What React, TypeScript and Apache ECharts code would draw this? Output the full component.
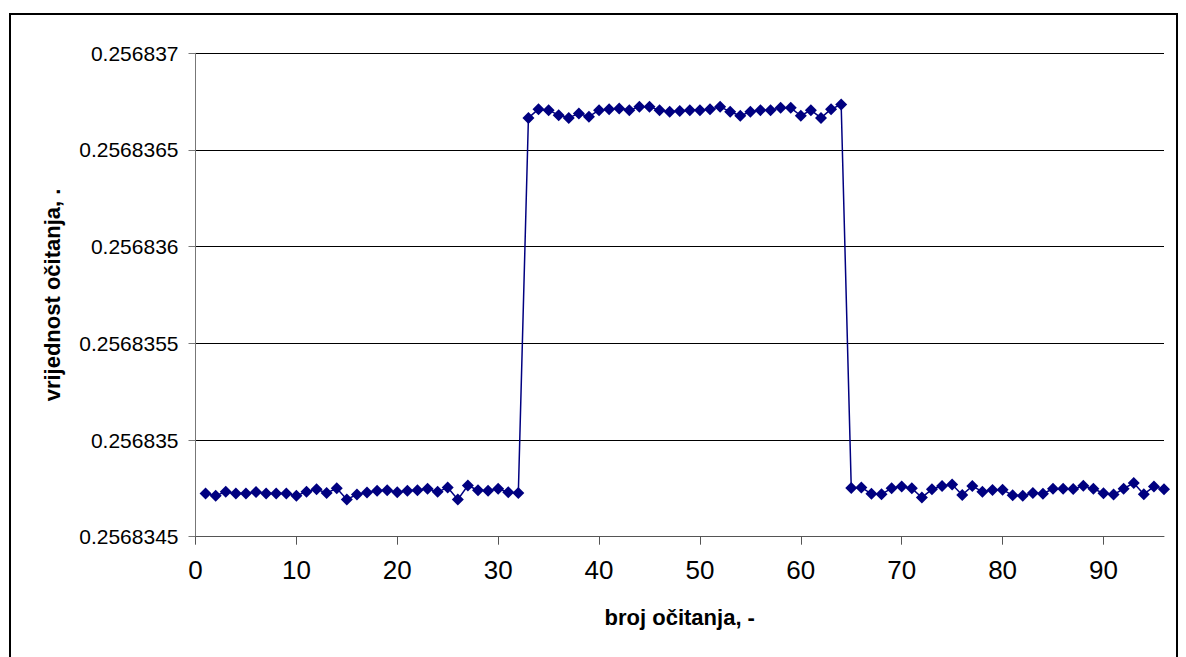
import React, { useEffect, useRef } from "react";
import * as echarts from "echarts";

// Readings 1–32 (before the step)
const lowStart = [
  0.256834724, 0.256834712, 0.256834733, 0.256834724, 0.256834724, 0.256834731, 0.256834724, 0.256834724,
  0.256834724, 0.256834712, 0.256834733, 0.256834745, 0.256834726, 0.25683475, 0.256834693, 0.256834718,
  0.256834728, 0.256834738, 0.25683474, 0.25683473, 0.256834738, 0.25683474, 0.256834748, 0.256834732,
  0.256834754, 0.256834692, 0.256834765, 0.25683474, 0.256834738, 0.256834748, 0.25683473, 0.256834726,
];
// Readings 33–64 (plateau)
const highPlateau = [
  0.256836666, 0.256836711, 0.256836706, 0.25683668, 0.256836666, 0.256836689, 0.256836672, 0.256836706,
  0.256836711, 0.256836715, 0.256836706, 0.256836723, 0.256836723, 0.256836706, 0.256836698, 0.256836701,
  0.256836706, 0.256836706, 0.256836711, 0.256836723, 0.256836698, 0.256836677, 0.256836698, 0.256836706,
  0.256836706, 0.256836718, 0.256836718, 0.256836677, 0.256836706, 0.256836666, 0.256836711, 0.256836735,
];
// Readings 65–96 (after the step)
const lowEnd = [
  0.256834752, 0.256834755, 0.256834722, 0.25683472, 0.25683475, 0.25683476, 0.25683475, 0.256834703,
  0.256834745, 0.256834762, 0.25683477, 0.256834716, 0.256834762, 0.256834733, 0.256834741, 0.256834743,
  0.256834714, 0.256834712, 0.256834726, 0.256834722, 0.256834748, 0.256834748, 0.256834747, 0.256834763,
  0.256834748, 0.256834725, 0.256834718, 0.256834748, 0.256834778, 0.25683472, 0.256834759, 0.256834745,
];

const xTicks = [0, 10, 20, 30, 40, 50, 60, 70, 80, 90];
const yTicks = [0.2568345, 0.256835, 0.2568355, 0.256836, 0.2568365, 0.256837];

const xTitle = "broj očitanja, -";
const yTitle = "vrijednost očitanja, .";

export default function App() {
  const ref = useRef<HTMLDivElement>(null);

  useEffect(() => {
    if (!ref.current) return;
    const chart = echarts.init(ref.current, null, { renderer: "svg" });
    const readings = [...lowStart, ...highPlateau, ...lowEnd];
    const data = readings.map((v, i) => [i + 1, v]);
    const font = "'Liberation Sans', Arial, sans-serif";

    chart.setOption({
      animation: false,
      backgroundColor: "#ffffff",
      grid: { left: 195.5, top: 53.3, right: 22, bottom: 120.3, containLabel: false },
      xAxis: {
        type: "value",
        min: 0,
        max: 96,
        interval: 10,
        name: xTitle,
        nameLocation: "middle",
        nameGap: 70,
        nameTextStyle: { fontFamily: font, fontSize: 22, fontWeight: "bold", color: "#000" },
        axisLine: { show: true, onZero: false, lineStyle: { color: "#555", width: 1 } },
        axisTick: { show: true, length: 8, customValues: xTicks, lineStyle: { color: "#555" } },
        axisLabel: {
          customValues: xTicks,
          fontFamily: font,
          fontSize: 26,
          color: "#000",
          margin: 20,
        },
        splitLine: { show: false },
      },
      yAxis: {
        type: "value",
        min: yTicks[0],
        max: yTicks[yTicks.length - 1],
        interval: 0.0000005,
        name: yTitle,
        nameLocation: "middle",
        nameGap: 132,
        nameRotate: 90,
        nameTextStyle: { fontFamily: font, fontSize: 22, fontWeight: "bold", color: "#000" },
        axisLine: { show: true, lineStyle: { color: "#777", width: 1 } },
        axisTick: { show: true, length: 7, lineStyle: { color: "#777" } },
        axisLabel: {
          fontFamily: font,
          fontSize: 21,
          color: "#000",
          margin: 17,
          formatter: (v: number) => String(parseFloat(v.toFixed(7))),
        },
        splitLine: { show: true, lineStyle: { color: "#000", width: 1 } },
      },
      graphic: [
        {
          type: "rect",
          shape: { x: 10, y: 14, width: 1167, height: 700 },
          style: { fill: "none", stroke: "#000", lineWidth: 2 },
          silent: true,
        },
      ],
      series: [
        {
          type: "line",
          data,
          symbol: "diamond",
          symbolSize: 12,
          showAllSymbol: true,
          lineStyle: { color: "#000080", width: 1.5 },
          itemStyle: { color: "#000080" },
        },
      ],
    });

    return () => chart.dispose();
  }, []);

  return (
    <div
      ref={ref}
      style={{ position: "absolute", left: 0, top: 0, width: 1186, height: 657 }}
    />
  );
}
